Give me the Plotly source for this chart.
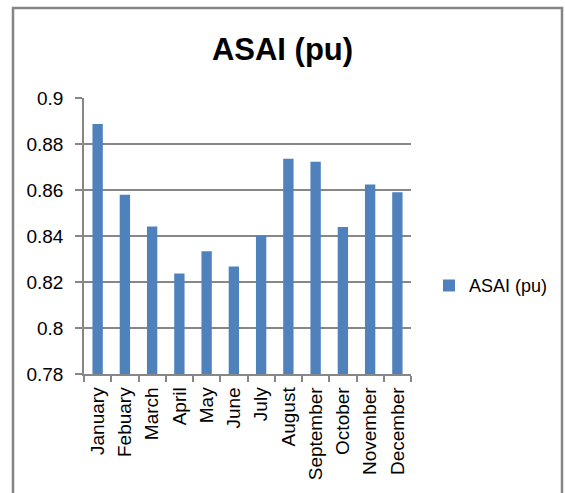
import plotly.graph_objects as go

# Monthly ASAI values (per unit)
months = ["January", "Febuary", "March", "April", "May", "June", "July",
          "August", "September", "October", "November", "December"]
asai = [0.8887, 0.8579, 0.8441, 0.8237, 0.8334, 0.8267, 0.8402,
        0.8736, 0.8723, 0.8439, 0.8624, 0.8590]

y_ticks = [0.78, 0.8, 0.82, 0.84, 0.86, 0.88, 0.9]
y_tick_text = ["0.78", "0.8", "0.82", "0.84", "0.86", "0.88", "0.9"]

FONT = "Liberation Sans"
GRID = "#878787"

fig = go.Figure(
    go.Bar(x=months, y=asai, name="ASAI (pu)", marker_color="#4F81BD",
           marker_line_width=0)
)

fig.update_layout(
    width=565, height=493,
    margin=dict(l=84, r=154, t=98, b=119),
    paper_bgcolor="white", plot_bgcolor="white",
    bargap=0.62,
    showlegend=True,
    title=dict(text="<b>ASAI (pu)</b>", x=0.5, xanchor="center",
               y=0.9, yanchor="middle",
               font=dict(family=FONT, size=31, color="black")),
    legend=dict(x=1.055, y=0.32, xanchor="left", yanchor="middle",
                font=dict(family=FONT, size=18, color="black"),
                itemwidth=30, bgcolor="rgba(0,0,0,0)"),
    font=dict(family=FONT, color="black"),
)

fig.update_xaxes(
    tickangle=-90, tickson="boundaries", ticks="outside", ticklen=6,
    tickcolor=GRID, tickwidth=1.5,
    showline=True, linecolor=GRID, linewidth=1.5,
    showgrid=False, ticklabelstandoff=4,
    tickfont=dict(family=FONT, size=19, color="black"),
)
fig.update_yaxes(
    range=[0.78, 0.9], tickvals=y_ticks, ticktext=y_tick_text,
    ticks="outside", ticklen=7, tickcolor=GRID, tickwidth=1.5,
    showline=True, linecolor=GRID, linewidth=1.5,
    showgrid=True, gridcolor=GRID, gridwidth=1.5,
    ticklabelstandoff=8,
    tickfont=dict(family=FONT, size=19, color="black"),
    zeroline=False,
)

# Chart-area frame around everything
fig.add_shape(type="rect", xref="paper", yref="paper",
              x0=(13 - 84) / 327, x1=(562 - 84) / 327,
              y0=(374 - 520) / 276, y1=(374 - 8) / 276,
              line=dict(color="#858585", width=2.5), fillcolor="rgba(0,0,0,0)")

fig.write_html("out.html")
